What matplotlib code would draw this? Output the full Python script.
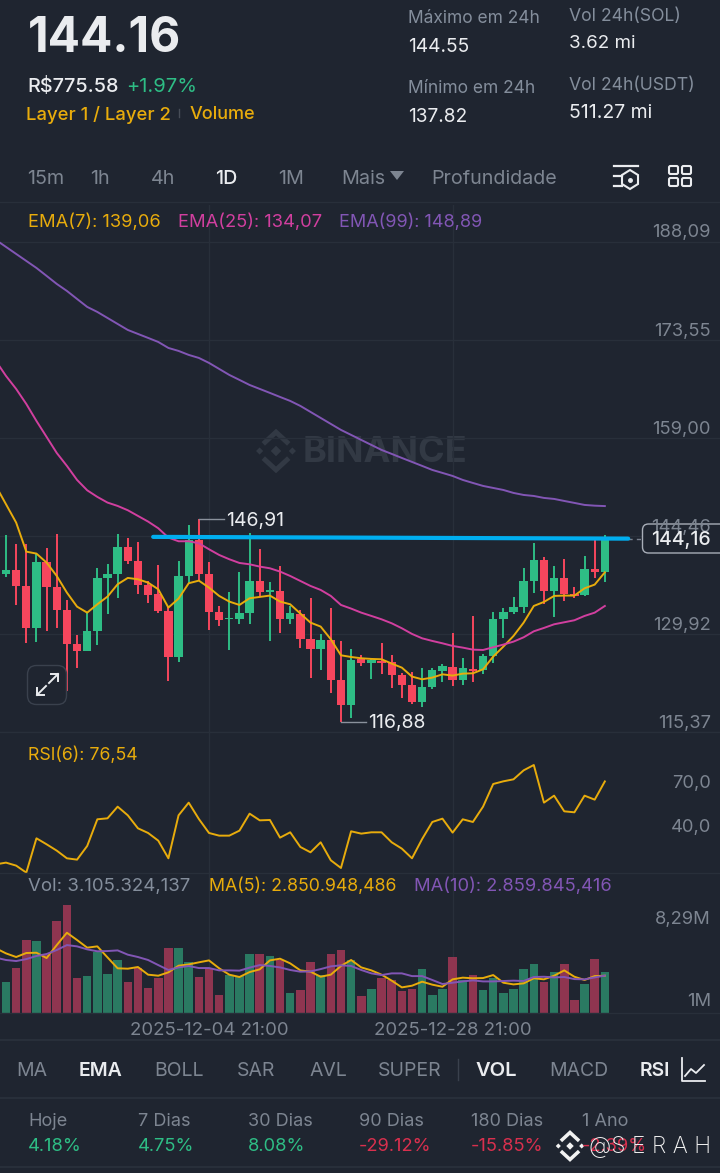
import numpy as np
import matplotlib
matplotlib.use('Agg')
import matplotlib.pyplot as plt
from matplotlib.patches import FancyBboxPatch, Polygon

W, H = 720, 1173
BG = '#1f2530'
GRID = '#282f3a'
GREY = '#848e9c'
LIGHT = '#eaecef'
YELLOW = '#e8ac0c'
PINK = '#d13f9f'
PURPLE = '#8256b5'
UP = '#2ebd85'
DOWN = '#f6465d'
UP_VOL = '#2a7a62'
DOWN_VOL = '#8f3550'
FONT = 'Inter'

# first candle (-1) is cut off by the left edge
idx = np.arange(-1, 60)

highs = [145.2, 144.56, 143.22, 143.22, 141.74, 142.73, 144.71, 134.91, 129.77, 133.08,
         139.76, 140.35, 144.71, 144.21, 143.57, 137.78, 140.11, 133.92, 140.75, 146.04,
         146.91, 140.6, 134.02, 136.2, 139.17, 144.85, 142.48, 137.63, 140.01, 134.07,
         133.48, 135.31, 129.97, 133.83, 128.88, 127.74, 126.75, 126.41, 128.63, 126.75,
         124.18, 124.28, 124.92, 124.92, 125.52, 130.02, 126.41, 132.59, 126.94, 133.13,
         133.83, 135.41, 139.76, 143.37, 141.29, 139.96, 141.05, 136.89, 141.49, 144.21, 144.55]
opens = [144.71, 138.77, 139.46, 136.99, 130.81, 140.55, 136.89, 133.53, 128.48, 127.4,
         130.41, 138.28, 138.77, 142.88, 140.7, 137.14, 135.8, 133.33, 126.5, 138.52,
         143.82, 138.87, 133.18, 132.09, 132.09, 133.08, 137.73, 136.2, 136.25, 132.14,
         132.94, 129.22, 127.64, 128.98, 123.09, 119.43, 126.21, 125.66, 125.91, 125.71,
         123.83, 122.35, 119.88, 122.1, 124.48, 125.07, 123.09, 124.77, 124.53, 126.7,
         132.09, 133.23, 133.97, 137.73, 140.95, 136.25, 138.18, 135.8, 135.65, 139.56, 139.12]
closes = [139.27, 139.46, 136.99, 130.81, 140.55, 136.89, 133.53, 128.48, 127.4, 130.41,
          138.28, 138.77, 142.88, 140.7, 137.14, 135.7, 133.33, 126.5, 138.52, 143.82,
          138.87, 133.18, 132.04, 132.34, 133.08, 137.73, 136.1, 136.45, 132.14, 132.98,
          129.22, 127.64, 128.98, 123.09, 119.43, 126.06, 125.62, 126.06, 125.62, 123.83,
          122.35, 119.88, 122.05, 124.53, 125.17, 123.09, 124.82, 124.43, 126.7, 132.09,
          133.23, 133.97, 137.73, 140.95, 136.25, 138.18, 135.8, 135.56, 139.56, 139.12, 144.16]
lows = [138.8, 138.42, 134.22, 128.63, 128.78, 130.36, 130.86, 121.46, 124.82, 127.4,
        128.24, 132.94, 135.31, 140.25, 135.8, 134.57, 133.03, 122.94, 125.81, 137.53,
        137.78, 130.56, 131.06, 127.54, 131.35, 131.45, 135.56, 128.88, 130.12, 131.35,
        127.79, 123.44, 124.63, 121.16, 116.88, 117.4, 125.12, 123.19, 124.03, 121.95,
        120.42, 119.48, 119.04, 121.71, 122.85, 122.2, 122.4, 122.8, 124.03, 125.66,
        129.37, 132.94, 132.98, 136.0, 134.42, 132.49, 134.81, 135.21, 135.56, 138.18, 137.63]

ema7 = [151.88, 149.16, 146.44, 142.13, 141.84, 140.5, 138.52, 136.05, 133.97, 133.08,
        134.32, 135.46, 137.29, 138.23, 138.03, 137.53, 136.55, 133.83, 135.16, 137.44,
        137.83, 136.79, 135.56, 134.72, 134.22, 135.21, 135.41, 135.61, 134.72, 134.32,
        132.94, 131.6, 131.01, 129.13, 126.75, 126.5, 126.31, 126.21, 126.16, 125.52,
        124.92, 123.59, 123.19, 123.44, 123.93, 123.74, 124.03, 124.08, 124.67, 126.56,
        128.04, 129.62, 131.6, 134.07, 134.67, 135.56, 135.61, 135.61, 136.69, 137.24, 139.06]
ema25 = [170.42, 168.2, 166.27, 164.04, 161.52, 159.15, 156.77, 154.85, 152.77, 151.23,
         150.25, 149.41, 148.91, 148.27, 147.43, 146.59, 145.6, 144.21, 143.67, 143.67,
         143.37, 142.48, 141.64, 141.0, 140.45, 140.25, 139.91, 139.66, 139.17, 138.52,
         137.78, 137.04, 136.45, 135.56, 134.22, 133.68, 133.08, 132.59, 132.09, 131.5,
         130.76, 129.92, 129.27, 128.88, 128.53, 128.14, 127.89, 127.59, 127.54, 127.94,
         128.34, 128.78, 129.42, 130.31, 130.81, 131.35, 131.65, 131.95, 132.59, 133.08, 134.07]
ema99 = [188.38, 187.34, 186.3, 185.26, 184.22, 183.04, 181.85, 180.81, 179.62, 178.44,
         177.69, 176.8, 175.91, 175.02, 174.43, 173.84, 173.24, 172.35, 171.91, 171.32,
         170.87, 170.13, 169.24, 168.35, 167.61, 166.86, 166.27, 165.68, 165.08, 164.49,
         163.75, 162.86, 161.97, 161.08, 160.19, 159.45, 158.7, 157.96, 157.22, 156.63,
         156.03, 155.44, 154.85, 154.25, 153.81, 153.36, 152.77, 152.32, 151.88, 151.58,
         151.28, 150.84, 150.54, 150.39, 150.1, 149.95, 149.65, 149.36, 149.06, 148.95, 148.89]

rsi6 = [20.0, 21.16, 19.12, 14.35, 37.75, 33.66, 29.34, 24.11, 23.2, 32.52,
        50.7, 51.38, 59.33, 53.42, 44.56, 41.38, 36.16, 24.11, 53.42, 62.06,
        50.93, 41.38, 39.56, 39.56, 42.97, 54.56, 50.0, 50.24, 38.2, 41.84,
        31.84, 28.2, 35.02, 22.75, 17.52, 42.52, 40.93, 41.84, 41.84, 35.02,
        30.7, 24.11, 37.29, 48.88, 51.15, 41.61, 50.7, 48.88, 59.33, 74.78,
        76.6, 77.96, 84.09, 87.73, 62.06, 66.83, 56.15, 55.47, 66.83, 64.1, 76.54]

# volume in millions
volume = [6.16, 2.36, 3.42, 5.6, 5.52, 4.44, 7.04, 8.29, 2.65, 2.82,
          4.7, 3.0, 4.03, 2.34, 3.42, 1.87, 2.65, 4.98, 5.01, 3.93,
          2.72, 3.42, 1.36, 2.9, 2.82, 4.49, 4.49, 4.37, 4.06, 1.49,
          1.75, 3.93, 2.9, 4.52, 4.8, 4.06, 1.26, 1.82, 2.67, 2.52,
          1.64, 1.82, 3.34, 1.36, 1.82, 4.29, 2.52, 2.93, 1.75, 2.65,
          1.52, 1.8, 3.34, 3.77, 2.34, 3.11, 3.77, 1.0, 2.21, 4.16, 3.105]
vol_ma5 = [4.96, 4.57, 4.29, 4.6, 4.62, 4.21, 5.21, 6.16, 5.6, 5.01,
           5.11, 4.26, 3.42, 3.39, 3.52, 2.93, 2.85, 3.11, 3.62, 3.72,
           3.88, 4.03, 3.42, 2.93, 2.75, 3.13, 3.34, 4.03, 4.16, 3.8,
           3.26, 3.16, 2.77, 2.93, 3.6, 4.06, 3.49, 3.26, 2.93, 2.47,
           1.95, 2.08, 2.39, 2.16, 2.0, 2.57, 2.7, 2.65, 2.67, 2.9,
           2.31, 2.18, 2.26, 2.65, 2.57, 2.85, 3.26, 2.77, 2.52, 2.82, 2.85]
vol_ma10 = [4.24, 4.06, 3.98, 4.13, 4.37, 4.52, 4.83, 5.21, 5.11, 4.88,
            4.73, 4.75, 4.8, 4.47, 4.29, 4.06, 3.67, 3.29, 3.49, 3.6,
            3.44, 3.44, 3.26, 3.26, 3.24, 3.47, 3.67, 3.6, 3.49, 3.29,
            3.16, 3.18, 3.36, 3.57, 3.65, 3.6, 3.29, 3.03, 2.9, 3.03,
            3.03, 2.82, 2.82, 2.52, 2.21, 2.31, 2.41, 2.49, 2.41, 2.41,
            2.44, 2.47, 2.44, 2.75, 2.77, 2.72, 2.75, 2.59, 2.57, 2.72, 2.86]

price_ticks = [188.09, 173.55, 159.00, 144.46, 129.92, 115.37]
price_labels = ['188,09', '173,55', '159,00', '144,46', '129,92', '115,37']
date_ticks = [20, 44]
date_labels = ['2025-12-04 21:00', '2025-12-28 21:00']
trend_x = [14.5, 61.3]
trend_y = [144.32, 144.06]

periods = ['Hoje', '7 Dias', '30 Dias', '90 Dias', '180 Dias', '1 Ano']
period_vals = ['4.18%', '4.75%', '8.08%', '-29.12%', '-15.85%', '-2.39%']

x0, dx = 6, 10.15  # px of candle 0, px per candle
xlim = (-x0 / dx, (W - x0) / dx)

plt.rcParams['font.family'] = [FONT, 'DejaVu Sans']
fig = plt.figure(figsize=(W / 100, H / 100), dpi=100, facecolor=BG)


def add_ax(top, bottom, z=1):
    ax = fig.add_axes([0, 1 - bottom / H, 1, (bottom - top) / H], zorder=z)
    ax.patch.set_alpha(0)
    ax.set_xlim(*xlim)
    ax.set_xticks([])
    ax.set_yticks([])
    for s in ax.spines.values():
        s.set_visible(False)
    return ax


def logo(ax, cx, cy, s, color):
    # binance mark, s is half the height
    for ox, r in [(0, .25), (-.78, .17), (.78, .17)]:
        ax.add_patch(Polygon([(cx + ox * s, cy - r * s), (cx + (ox + r) * s, cy),
                              (cx + ox * s, cy + r * s), (cx + (ox - r) * s, cy)],
                             fc=color, ec='none'))
    for sign in (-1, 1):
        ax.plot([cx - .52 * s, cx, cx + .52 * s],
                [cy + sign * .42 * s, cy + sign * .9 * s, cy + sign * .42 * s],
                color=color, lw=s * .17, solid_joinstyle='miter')


bg = fig.add_axes([0, 0, 1, 1], zorder=0)
bg.set_xlim(0, W)
bg.set_ylim(H, 0)
bg.axis('off')
logo(bg, 276, 451, 21, '#323944')
bg.text(303, 452, 'BINANCE', color='#323944', fontsize=26, fontweight='bold', va='center', ha='left')

# price panel
px_per_price = 98 / 14.54
ax1 = add_ax(205, 732)
ax1.set_ylim(115.37, 115.37 + 527 / px_per_price)
for p in price_ticks:
    ax1.axhline(p, color=GRID, lw=1, zorder=1)
for d in date_ticks:
    ax1.axvline(d, color=GRID, lw=1, zorder=1)

colors = [UP if c >= o else DOWN for o, c in zip(opens, closes)]
ax1.vlines(idx, lows, highs, colors=colors, lw=1.4, zorder=2)
bottoms = np.minimum(opens, closes)
heights = np.abs(np.array(opens) - np.array(closes))
ax1.bar(idx, heights, bottom=bottoms, width=0.82, color=colors, zorder=3)
ax1.plot(idx, ema7, color=YELLOW, lw=1.4, zorder=4)
ax1.plot(idx, ema25, color=PINK, lw=1.4, zorder=4)
ax1.plot(idx, ema99, color=PURPLE, lw=1.4, zorder=4)
ax1.plot([trend_x[1], 63.5], [trend_y[1], trend_y[1]], color='#777f8c', lw=1, ls=(0, (3, 3)), zorder=5)
ax1.plot(trend_x, trend_y, color='#00aeef', lw=3, solid_capstyle='round', zorder=6)

# max / min markers
ax1.plot([19, 21.5], [146.91, 146.91], color='#8a919c', lw=1, zorder=5)
ax1.text(21.65, 146.7, '146,91', color=LIGHT, fontsize=14, va='center', ha='left', zorder=6)
ax1.plot([33, 35.5], [116.88, 116.88], color='#8a919c', lw=1, zorder=5)
ax1.text(35.65, 116.7, '116,88', color=LIGHT, fontsize=14, va='center', ha='left', zorder=6)

# rsi panel
px_per_rsi = 44 / 30
ax2 = add_ax(732, 873)
ax2.set_ylim(70 - (873 - 791) / px_per_rsi, 70 + (791 - 732) / px_per_rsi)
for d in date_ticks:
    ax2.axvline(d, color=GRID, lw=1, zorder=1)
ax2.plot(idx, rsi6, color=YELLOW, lw=1.4, zorder=3)

# volume panel
px_per_vol = 12.98
ax3 = add_ax(873, 1012.7)
ax3.set_ylim(0, 139.7 / px_per_vol)
for d in date_ticks:
    ax3.axvline(d, color=GRID, lw=1, zorder=1)
vol_colors = [UP_VOL if c == UP else DOWN_VOL for c in colors]
ax3.bar(idx, volume, width=0.84, color=vol_colors, zorder=2)
ax3.plot(idx, vol_ma5, color=YELLOW, lw=1.4, zorder=3)
ax3.plot(idx, vol_ma10, color=PURPLE, lw=1.4, zorder=3)

# everything around the charts, in pixels
ui = fig.add_axes([0, 0, 1, 1], zorder=5)
ui.patch.set_alpha(0)
ui.set_xlim(0, W)
ui.set_ylim(H, 0)
ui.axis('off')


def T(x, y, s, color=GREY, size=13, ha='left', weight='normal', **kw):
    return ui.text(x, y + 1.5, s, color=color, fontsize=size, ha=ha, va='center', fontweight=weight, **kw)


for y in [202, 732, 873, 1012.7, 1040, 1098, 1167]:
    ui.plot([0, W], [y, y], color=GRID, lw=1.5 if y in (1040, 1098, 1167) else 1)

# header
T(28, 37, '144.16', color=LIGHT, size=34.5, weight='bold')
T(27, 85, 'R$775.58', color=LIGHT, size=14.3, weight='medium')
T(126, 85, '+1.97%', color=UP, size=14.5)
T(26, 113, 'Layer 1 / Layer 2', color=YELLOW, size=13.3, weight='medium')
ui.plot([179, 179], [109, 117], color='#474d57', lw=1)
T(190, 113, 'Volume', color=YELLOW, size=13, weight='medium')
T(408, 17, 'Máximo em 24h', size=12.5)
T(408, 45, '144.55', color=LIGHT, size=13.8)
T(408, 87, 'Mínimo em 24h', size=12.5)
T(408, 115, '137.82', color=LIGHT, size=13.8)
T(569, 15, 'Vol 24h(SOL)', size=12.7)
T(569, 42, '3.62 mi', color=LIGHT, size=13.5)
T(569, 84, 'Vol 24h(USDT)', size=12.7)
T(569, 111, '511.27 mi', color=LIGHT, size=14)

# interval tabs
for x, s in [(27, '15m'), (90, '1h'), (151, '4h'), (278, '1M'), (341, 'Mais'), (431, 'Profundidade')]:
    T(x, 177, s, color='#7d8591', size=14.2)
T(215, 177, '1D', color=LIGHT, size=14.2, weight='medium')
ui.add_patch(Polygon([(390, 171), (404, 171), (397, 180)], fc='#7d8591', ec='none'))

# top right icons
ui.plot([614, 638], [166, 166], color=LIGHT, lw=1.6)
ui.plot([614, 622], [176, 176], color=LIGHT, lw=1.6)
ui.plot([614, 622], [186, 186], color=LIGHT, lw=1.6)
ui.add_patch(Polygon([(630, 170), (638, 175), (638, 184), (630, 189), (622, 184), (622, 175)],
                     fc='none', ec=LIGHT, lw=1.5))
ui.plot([630], [179.5], 'o', color=LIGHT, ms=2.5)
for gx in (669, 682):
    for gy in (166, 178):
        ui.add_patch(FancyBboxPatch((gx, gy), 9, 8, boxstyle='round,pad=0,rounding_size=1.5',
                                    fc='none', ec=LIGHT, lw=1.5))

# indicator legends
T(28, 221, 'EMA(7): 139,06', color=YELLOW, size=13.2)
T(178, 221, 'EMA(25): 134,07', color=PINK, size=13.2)
T(339, 221, 'EMA(99): 148,89', color=PURPLE, size=13)
T(28, 754, 'RSI(6): 76,54', color=YELLOW, size=12.8)
T(28, 885, 'Vol: 3.105.324,137', size=13.4)
T(209, 885, 'MA(5): 2.850.948,486', color=YELLOW, size=12.8)
T(414, 885, 'MA(10): 2.859.845,416', color=PURPLE, size=13.2)

# axis labels
for lab, y in zip(price_labels, [231, 330, 428, 526, 624, 722]):
    T(711, y, lab, color='#7d8591', size=13.2, ha='right')
T(711, 782, '70,0', color='#7d8591', size=13.2, ha='right')
T(711, 826, '40,0', color='#7d8591', size=13.2, ha='right')
T(711, 918, '8,29M', color='#7d8591', size=13.2, ha='right')
T(711, 1000, '1M', color='#7d8591', size=13.2, ha='right')
for d, lab in zip(date_ticks, date_labels):
    T(x0 + d * dx, 1029, lab, color='#7d8591', size=13.4, ha='center')

# current price tag
ui.add_patch(FancyBboxPatch((642.5, 524), 90, 29, boxstyle='round,pad=0,rounding_size=6',
                            fc=BG, ec='#a8aeb8', lw=1))
T(681, 538.5, '144,16', color=LIGHT, size=14, ha='center', weight='medium')

# expand button
ui.add_patch(FancyBboxPatch((27.5, 665.5), 39, 39, boxstyle='round,pad=0,rounding_size=9',
                            fc=BG, ec='#3a414d', lw=1))
ui.plot([37, 46], [695, 686], color=LIGHT, lw=1.4)
ui.plot([49, 58], [683, 674], color=LIGHT, lw=1.4)
ui.plot([37, 37, 44], [688, 695, 695], color=LIGHT, lw=1.4)
ui.plot([51, 58, 58], [674, 674, 681], color=LIGHT, lw=1.4)

# indicator tabs
for x, s in [(16, 'MA'), (154, 'BOLL'), (237, 'SAR'), (309, 'AVL'), (378, 'SUPER'), (549, 'MACD')]:
    T(x, 1070, s, color='#7d8591', size=14)
T(79, 1069, 'EMA', color=LIGHT, size=14, weight='semibold')
T(475, 1069, 'VOL', color=LIGHT, size=14.5, weight='semibold')
T(640, 1069, 'RSI', color=LIGHT, size=14, weight='semibold')
ui.plot([458, 458], [1059, 1080], color='#3a414d', lw=1)
ui.plot([682, 682, 705], [1058, 1081, 1081], color=LIGHT, lw=1.3)
ui.plot([685, 691, 696, 704], [1076, 1069, 1073, 1065], color=LIGHT, lw=1.3)

# change by period
for x, lab, val in zip([28, 138, 248, 359, 471, 582], periods, period_vals):
    T(x, 1120, lab, color='#7d8591', size=13)
    T(x, 1145, val, color='#d9304e' if val.startswith('-') else UP, size=13.2)

# watermark over the corner
logo(ui, 570, 1146, 15, '#f2f2f2')
T(589, 1145, '@S E R A H', color='#f2f2f2', size=16.5, weight='light')

fig.savefig('out.png', dpi=100, facecolor=BG)
